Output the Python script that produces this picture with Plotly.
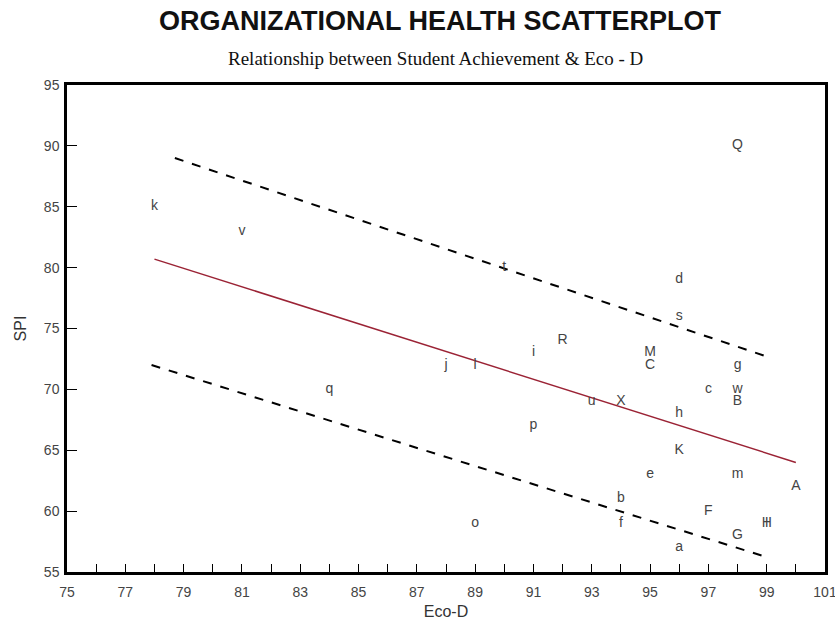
import plotly.graph_objects as go

# Data: school labels with Eco-D (x) and SPI (y)
labels = ["k", "v", "Q", "t", "d", "s", "R", "i", "M", "C", "g", "j", "l",
          "q", "c", "w", "B", "u", "X", "h", "p", "K", "e", "m", "A", "b",
          "F", "f", "o", "H", "I", "G", "a"]
eco_d = [78, 81, 98, 90, 96, 96, 92, 91, 95, 95, 98, 88, 89,
         84, 97, 98, 98, 93, 94, 96, 91, 96, 95, 98, 100, 94,
         97, 94, 89, 99, 99, 98, 96]
spi = [85, 83, 90, 80, 79, 76, 74, 73, 73, 72, 72, 72, 72,
       70, 70, 70, 69, 69, 69, 68, 67, 65, 63, 63, 62, 61,
       60, 59, 59, 59, 59, 58, 57]

# Regression line and confidence band endpoints
reg_x = [78, 100]
reg_y = [80.7, 64.0]
upper_x = [78.7, 99.0]
upper_y = [89.0, 72.7]
lower_x = [77.9, 98.9]
lower_y = [72.0, 56.3]

fig = go.Figure()
fig.add_trace(go.Scatter(x=upper_x, y=upper_y, mode="lines",
                         line=dict(color="black", width=2, dash="dash"),
                         hoverinfo="skip"))
fig.add_trace(go.Scatter(x=lower_x, y=lower_y, mode="lines",
                         line=dict(color="black", width=2, dash="dash"),
                         hoverinfo="skip"))
fig.add_trace(go.Scatter(x=reg_x, y=reg_y, mode="lines",
                         line=dict(color="#9b2335", width=1.5),
                         hoverinfo="skip"))
fig.add_trace(go.Scatter(x=eco_d, y=spi, mode="text", text=labels,
                         textposition="middle center",
                         textfont=dict(family="Liberation Sans, Arial", size=14, color="#444444")))

fig.update_layout(
    width=835, height=623,
    margin=dict(l=67, r=10, t=85, b=51),
    paper_bgcolor="white", plot_bgcolor="white",
    showlegend=False,
    font=dict(family="Liberation Sans, Arial", color="#444444"),
    title=dict(text="<b>ORGANIZATIONAL HEALTH SCATTERPLOT</b>",
               x=0.527, xanchor="center", xref="container",
               y=1 - 21 / 623, yanchor="middle", yref="container",
               font=dict(family="Liberation Sans, Arial", size=27, color="#111111")),
)
fig.add_annotation(text="Relationship between Student Achievement &amp; Eco - D",
                   xref="paper", yref="paper", x=0.486, y=1 + 27 / 487,
                   xanchor="center", yanchor="middle", showarrow=False,
                   font=dict(family="Liberation Serif, Times New Roman", size=19, color="#111111"))

fig.update_xaxes(range=[75, 101], tick0=75, dtick=2, ticks="inside", ticklen=8,
                 tickcolor="black", tickwidth=1, automargin=False,
                 ticklabeloverflow="allow", ticklabelstandoff=5,
                 minor=dict(dtick=1, ticks="inside", ticklen=8, tickcolor="black"),
                 showgrid=False, zeroline=False, showline=True, linecolor="black",
                 linewidth=2.5, mirror=True,
                 tickfont=dict(size=14, color="#444444"),
                 title=dict(text="Eco-D", font=dict(size=16, color="#333333"), standoff=8))
fig.update_yaxes(range=[55, 95], tick0=55, dtick=5, ticks="inside", ticklen=10,
                 tickcolor="black", tickwidth=1, automargin=False,
                 ticklabeloverflow="allow", ticklabelstandoff=2,
                 showgrid=False, zeroline=False, showline=True, linecolor="black",
                 linewidth=2.5, mirror=True,
                 tickfont=dict(size=14, color="#444444"),
                 title=dict(text="SPI", font=dict(size=16, color="#333333"), standoff=14))

fig.write_html("out.html", config={"displayModeBar": False},
               post_script="document.body.style.margin='0';document.body.style.overflow='hidden';")
